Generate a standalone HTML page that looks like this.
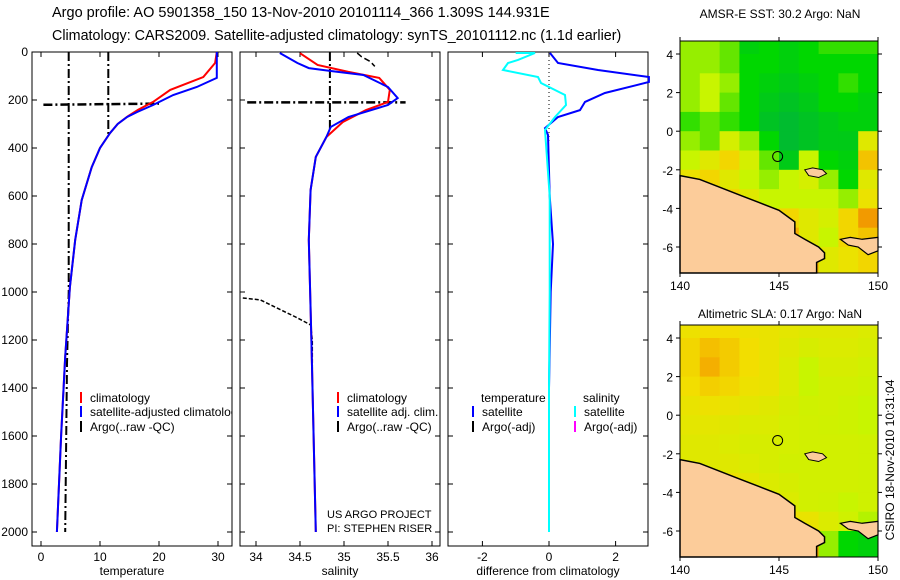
<!DOCTYPE html>
<html><head><meta charset="utf-8"><style>
body{margin:0;background:#fff;}
svg{display:block;font-family:"Liberation Sans",sans-serif;}
</style></head><body>
<svg id="c" width="900" height="580" viewBox="0 0 900 580">
<defs><clipPath id="cp1"><rect x="32" y="52" width="200" height="494"/></clipPath></defs>
<text x="52" y="17" font-size="14.5">Argo profile: AO 5901358_150 13-Nov-2010 20101114_366 1.309S 144.931E</text>
<text x="52" y="40" font-size="14.3">Climatology: CARS2009. Satellite-adjusted climatology: synTS_20101112.nc (1.1d earlier)</text>
<text x="780" y="18" font-size="12" text-anchor="middle">AMSR-E SST: 30.2 Argo: NaN</text>
<text x="780" y="318" font-size="12" text-anchor="middle">Altimetric SLA: 0.17 Argo: NaN</text>
<text x="327" y="518" font-size="11">US ARGO PROJECT</text>
<text x="327" y="532" font-size="11">PI: STEPHEN RISER</text>
<text transform="translate(894,460) rotate(-90)" font-size="12" text-anchor="middle">CSIRO 18-Nov-2010 10:31:04</text>
<g id="g"></g>
</svg>
<script>
// ---- profile data ----
const tcDepth=[0,46,104,158,208,240,270,300,338,400,480,617,783,979,1270,1600,2000];
const tcVal=[29.8,29.5,27.5,21.9,19.0,16.5,14.6,13.0,11.7,10.0,8.6,6.9,5.8,4.9,4.1,3.4,2.7];
const tsDepth=[0,4,108,146,179,221,250,271,300,338,400,480,617,783,979,1270,1600,2000];
const tsVal=[29.8,29.8,29.8,26.4,22.4,19.0,16.3,14.6,13.0,11.7,10.0,8.6,6.9,5.8,4.9,4.1,3.4,2.7];
const scDepth=[5,54,83,108,158,208,242,291,354,437,575,783,1200,2000];
const scVal=[34.5,34.7,35.05,35.4,35.52,35.5,35.25,34.99,34.8,34.68,34.62,34.6,34.63,34.68];
const ssDepth=[4,46,67,79,96,146,192,221,271,312,354,437,575,783,1200,2000];
const ssVal=[34.27,34.47,34.6,34.85,35.22,35.5,35.61,35.5,35.05,34.85,34.8,34.68,34.62,34.6,34.63,34.68];
const argoSalDepth=[1025,1033,1104,1137,1200,1320];
const argoSalVal=[33.85,34.05,34.45,34.62,34.64,34.64];
const argoSalTopDepth=[4,20,40,60];
const argoSalTopVal=[35.15,35.2,35.3,35.35];
const dtDepth=[4,46,75,104,125,171,208,242,271,317,346,600,800,1000,1400,2000];
const dtVal=[0.03,0.27,1.47,3.0,3.0,1.68,1.08,0.93,0.27,-0.12,-0.03,0.02,0.12,0.05,0.0,0.0];
const dsDepth=[4,4,33,46,75,104,129,179,221,271,325,600,1000,1400,2000];
const dsVal=[-1.0,-0.42,-0.93,-1.23,-1.38,-0.33,-0.24,0.48,0.51,0.18,-0.12,0.02,0.02,0.0,0.0];
const depthTicks=[0,200,400,600,800,1000,1200,1400,1600,1800,2000];
const tempTicks=[0,10,20,30];
const salTicks=[34,34.5,35,35.5,36];
const salTickLabels=["34","34.5","35","35.5","36"];
const diffTicks=[-2,0,2];
// ---- map data (value 0..1 on colour scale), rows lat 4.67 -> -7.35, cols 140..150 ----
const sstGrid=[
[0.45,0.45,0.4,0.25,0.3,0.25,0.3,0.35,0.35,0.35],
[0.45,0.45,0.4,0.3,0.3,0.25,0.3,0.3,0.3,0.3],
[0.45,0.5,0.45,0.3,0.25,0.2,0.25,0.3,0.35,0.3],
[0.45,0.5,0.4,0.3,0.2,0.15,0.2,0.3,0.3,0.25],
[0.35,0.4,0.35,0.3,0.15,0.1,0.15,0.2,0.25,0.25],
[0.45,0.4,0.55,0.45,0.3,0.1,0.15,0.2,0.2,0.6],
[0.5,0.6,0.7,0.55,0.4,0.2,0.5,0.3,0.25,0.75],
[0.65,0.7,0.6,0.5,0.45,0.5,0.55,0.45,0.3,0.6],
[0.7,0.7,0.7,0.6,0.5,0.5,0.5,0.5,0.45,0.65],
[0.7,0.7,0.7,0.7,0.7,0.7,0.6,0.55,0.7,0.85],
[0.7,0.7,0.7,0.7,0.7,0.8,0.6,0.5,0.7,0.75],
[0.7,0.7,0.7,0.7,0.7,0.7,0.8,0.6,0.65,0.7]];
const slaGrid=[
[0.66,0.68,0.68,0.66,0.64,0.62,0.6,0.6,0.6,0.58],
[0.7,0.76,0.73,0.68,0.64,0.6,0.56,0.58,0.58,0.56],
[0.7,0.8,0.73,0.68,0.64,0.58,0.5,0.56,0.56,0.54],
[0.68,0.72,0.7,0.66,0.64,0.58,0.5,0.54,0.54,0.52],
[0.64,0.66,0.64,0.62,0.6,0.56,0.53,0.54,0.52,0.5],
[0.62,0.62,0.6,0.58,0.58,0.55,0.54,0.53,0.52,0.5],
[0.6,0.6,0.58,0.56,0.56,0.55,0.54,0.54,0.54,0.53],
[0.6,0.6,0.6,0.58,0.56,0.54,0.54,0.54,0.54,0.53],
[0.62,0.64,0.66,0.62,0.58,0.56,0.54,0.54,0.54,0.53],
[0.64,0.66,0.66,0.66,0.62,0.58,0.54,0.53,0.5,0.53],
[0.64,0.66,0.66,0.68,0.68,0.66,0.64,0.58,0.53,0.48],
[0.66,0.68,0.68,0.68,0.7,0.74,0.85,0.45,0.3,0.25]];
const rowLatTop=[4.67,4,3,2,1,0,-1,-2,-3,-4,-5,-6];
const rowLatBot=[4,3,2,1,0,-1,-2,-3,-4,-5,-6,-7.35];
const landLon=[140,141,142,143,144,145,145.8,145.8,146.3,147,147.3,147.3,146.9,146.9,140];
const landLat=[-2.3,-2.5,-2.9,-3.3,-3.7,-4.1,-4.7,-5.3,-5.6,-6,-6.3,-6.6,-6.8,-7.35,-7.35];
const land2Lon=[148.1,148.6,149.2,150,150,149.5,149,148.5];
const land2Lat=[-5.6,-5.5,-5.6,-5.5,-6.2,-6.4,-6.0,-5.9];
const islandLon=[146.3,146.7,147.2,147.4,147.0,146.5];
const islandLat=[-2.0,-1.9,-2.0,-2.2,-2.4,-2.3];
const mapLatTicks=[4,2,0,-2,-4,-6];
const mapLonTicks=[140,145,150];
const argoLon=144.931, argoLat=-1.309;

const NS="http://www.w3.org/2000/svg";
const G=document.getElementById('g');
function mk(t,a,p){const e=document.createElementNS(NS,t);for(const k in a)e.setAttribute(k,a[k]);(p||G).appendChild(e);return e;}
const Y0=52, PY=0.24, PB=546;
const yD=d=>Y0+d*PY;
const xT=v=>41+v*5.9, xS=v=>256+(v-34)*88, xDf=v=>549+v*33.3;
function poly(xs,ys,fx,col,w,name,dash){
  const pts=xs.map((v,i)=>fx(v).toFixed(1)+','+yD(ys[i]).toFixed(1)).join(' ');
  const e=mk('polyline',{points:pts,fill:'none',stroke:col,'stroke-width':w});
  if(dash)e.setAttribute('stroke-dasharray',dash);
  
  
}
function txt(x,y,s,a,sz,name,p){const e=mk('text',{x:x,y:y,'font-size':sz||12,'text-anchor':a||'start'},p);e.textContent=s;
  return e;}
function panel(x0,x1,ticks,labels,fx,xlabel,name,showY){
  const r=mk('rect',{x:x0,y:Y0,width:x1-x0,height:PB-Y0,fill:'none',stroke:'#000','stroke-width':1});
  
  depthTicks.forEach(d=>{const y=yD(d);
    mk('line',{x1:x0,x2:x0+5,y1:y,y2:y,stroke:'#000'});mk('line',{x1:x1,x2:x1-5,y1:y,y2:y,stroke:'#000'});
    if(showY)txt(x0-4,y+4,String(d),'end',12,'depth-tick-label');});
  ticks.forEach((t,i)=>{const x=fx(t);
    mk('line',{x1:x,x2:x,y1:PB,y2:PB-5,stroke:'#000'});mk('line',{x1:x,x2:x,y1:Y0,y2:Y0+5,stroke:'#000'});
    txt(x,561,labels[i],'middle',12,name+'-x-tick-label');});
  txt((x0+x1)/2,575,xlabel,'middle',12,name+'-x-axis-title');
}
panel(32,232,tempTicks,tempTicks.map(String),xT,'temperature','temperature-panel',true);
panel(240,440,salTicks,salTickLabels,xS,'salinity','salinity-panel',false);
panel(448,648,diffTicks,diffTicks.map(String),xDf,'difference from climatology','difference-panel',false);

const DD="9,3,2,3";
poly([4.7,4.7,4.4,4.1],[0,1000,1300,2000],xT,'#000',2,'argo-temperature-line',DD);
poly([11.4,11.4],[0,345],xT,'#000',2,'argo-temperature-line-2',DD);
poly([0.4,20],[220,215],xT,'#000',2.5,'argo-temperature-mld',DD);
poly(tcVal,tcDepth,xT,'#f00',2,'temperature-climatology-line');
poly(tsVal,tsDepth,xT,'#00f',2,'temperature-satellite-line');
poly([34.84,34.84],[0,330],xS,'#000',2,'argo-salinity-line',DD);
poly([33.9,35.7],[210,210],xS,'#000',2.5,'argo-salinity-mld',DD);
poly(argoSalTopVal,argoSalTopDepth,xS,'#000',1.5,'argo-salinity-top','6,3');
poly(argoSalVal,argoSalDepth,xS,'#000',1.5,'argo-salinity-deep','4,2');
poly(scVal,scDepth,xS,'#f00',2,'salinity-climatology-line');
poly(ssVal,ssDepth,xS,'#00f',2,'salinity-satellite-line');
poly([0,0],[0,370],xDf,'#000',1,'zero-line','1,3');
poly(dtVal,dtDepth,xDf,'#00f',2,'temperature-difference-line');
poly(dsVal,dsDepth,xDf,'#0ff',2,'salinity-difference-line');

const legClip=mk('g',{'clip-path':'url(#cp1)'});


function leg(x,y,col,label,name,p){const l=mk('line',{x1:x,x2:x,y1:y-10,y2:y+1,stroke:col,'stroke-width':2},p);
  
  if(label)txt(x+9,y,label,'start',12,name,p);}
leg(81,402,'#f00','climatology','legend-climatology',legClip);
leg(81,416,'#00f','satellite-adjusted climatology','legend-satellite-adjusted',legClip);
leg(81,431,'#000','Argo(..raw -QC)','legend-argo-raw',legClip);
leg(338,402,'#f00','climatology','legend-sal-climatology');
leg(338,416,'#00f','satellite adj. clim.','legend-sal-satellite');
leg(338,431,'#000','Argo(..raw -QC)','legend-sal-argo');
txt(481,402,'temperature','start',12,'legend-header-temperature');
txt(583,402,'salinity','start',12,'legend-header-salinity');
leg(473,416,'#00f','satellite','legend-diff-temp-satellite');
leg(473,431,'#000','Argo(-adj)','legend-diff-temp-argo');
leg(575,416,'#0ff','satellite','legend-diff-sal-satellite');
leg(575,431,'#f0f','Argo(-adj)','legend-diff-sal-argo');

const stops=[[0,[0,175,70]],[0.3,[0,215,0]],[0.5,[200,245,0]],[0.68,[242,222,0]],[0.84,[245,160,0]],[1,[190,60,0]]];
function cmap(v){for(let i=1;i<stops.length;i++){if(v<=stops[i][0]){const a=stops[i-1],b=stops[i],t=(v-a[0])/(b[0]-a[0]);
  return 'rgb('+a[1].map((c,k)=>Math.round(c+(b[1][k]-c)*t)).join(',')+')';}}return 'rgb(190,60,0)';}
function map(grid,top,bot,name){
  const X0=680,X1=878, lx=l=>X0+(l-140)*(X1-X0)/10;
  const lat4=top+13, latm6=top+206; const ly=a=>lat4+(4-a)*(latm6-lat4)/10;
  const g=mk('g',{});
  grid.forEach((row,r)=>row.forEach((v,c)=>{
    const y1=Math.max(top,ly(rowLatTop[r])), y2=Math.min(bot,ly(rowLatBot[r]));
    const e=mk('rect',{x:lx(140+c),y:y1,width:lx(141+c)-lx(140+c)+0.5,height:y2-y1+0.5,fill:cmap(v)},g);
    }));
  const lp=mk('polygon',{points:landLon.map((l,i)=>lx(l)+','+Math.min(bot,ly(landLat[i]))).join(' '),fill:'#fccc9a',stroke:'#000','stroke-width':1.5},g);
  
  const lp2=mk('polygon',{points:land2Lon.map((l,i)=>lx(l)+','+ly(land2Lat[i])).join(' '),fill:'#fccc9a',stroke:'#000','stroke-width':1.2},g);
  
  const is=mk('polygon',{points:islandLon.map((l,i)=>lx(l)+','+ly(islandLat[i])).join(' '),fill:'#fccc9a',stroke:'#000','stroke-width':1},g);
  
  const ci=mk('circle',{cx:lx(argoLon),cy:ly(argoLat),r:5,fill:'none',stroke:'#000','stroke-width':1},g);
  
  const fr=mk('rect',{x:X0,y:top,width:X1-X0,height:bot-top,fill:'none',stroke:'#000'},g);
  
  mapLatTicks.forEach(a=>{const y=ly(a);mk('line',{x1:X0-4,x2:X0,y1:y,y2:y,stroke:'#000'},g);mk('line',{x1:X1,x2:X1+4,y1:y,y2:y,stroke:'#000'},g);
    txt(673,y+5,String(a),'end',12,'map-lat-tick-label',g);});
  mapLonTicks.forEach(l=>{const x=lx(l);mk('line',{x1:x,x2:x,y1:bot,y2:bot+4,stroke:'#000'},g);mk('line',{x1:x,x2:x,y1:top-4,y2:top,stroke:'#000'},g);
    txt(x,bot+17,String(l),'middle',12,'map-lon-tick-label',g);});
}
map(sstGrid,41,273,'sst-map');
map(slaGrid,325,557,'sla-map');
</script>
</body></html>
